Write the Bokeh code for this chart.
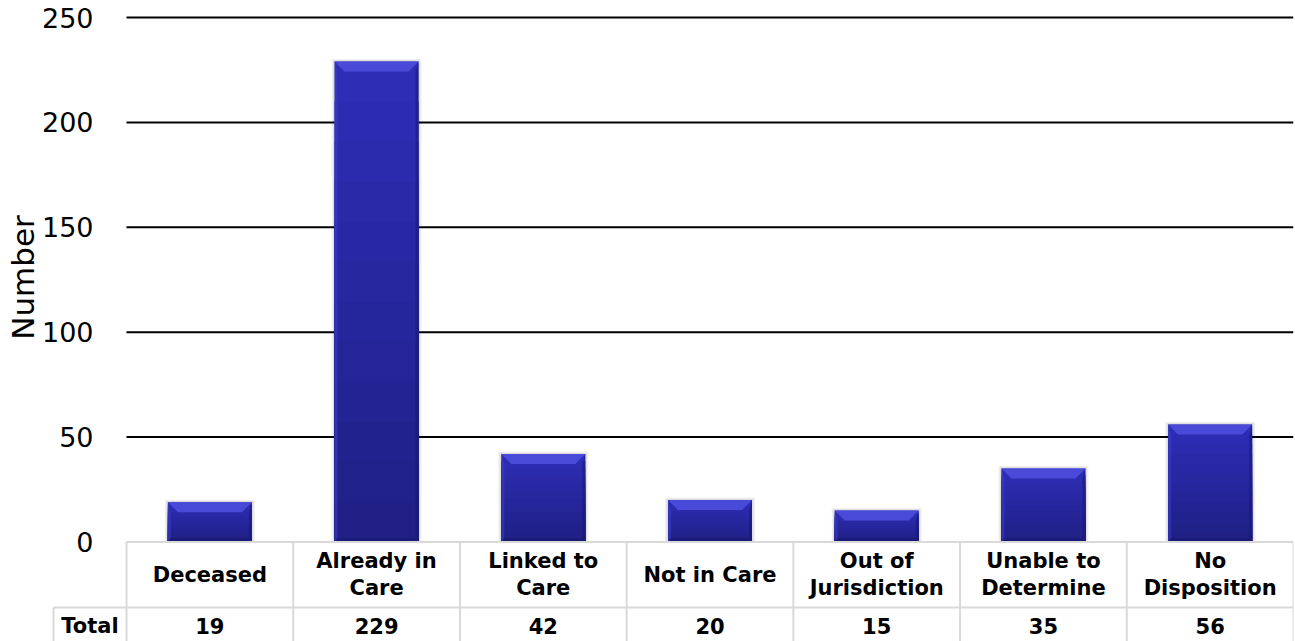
from bokeh.plotting import figure
from bokeh.models import Range1d, FixedTicker
from bokeh.core.properties import value
from bokeh.embed import file_html
from bokeh.resources import INLINE
import math

# ---------------- data ----------------
categories = ["Deceased", "Already in Care", "Linked to Care", "Not in Care",
              "Out of Jurisdiction", "Unable to Determine", "No Disposition"]
cat_labels = ["Deceased", "Already in\nCare", "Linked to\nCare", "Not in Care",
              "Out of\nJurisdiction", "Unable to\nDetermine", "No\nDisposition"]
totals = [19, 229, 42, 20, 15, 35, 56]
y_ticks = [0, 50, 100, 150, 200, 250]
grid_ticks = [50, 100, 150, 200, 250]
row_title = "Total"
y_title = "Number"

# ---------------- layout constants ----------------
W, H = 1295, 641
LEFT, RIGHT, TOP = 126, 2, 0      # LEFT: screen x of the chart area's left edge
TOTAL_LEFT = 53                    # screen x of the "Total" cell's left edge
n = len(categories)
pxu = (W - LEFT - RIGHT) / n       # px per x unit
Y0 = 541.5                          # screen y of value 0
Y250 = 17.0
py = (Y0 - Y250) / 250.0            # px per y unit
y_top = 250 + (Y250 - TOP) / py
y_bot = -(H - Y0) / py
y_row1 = -(607 - Y0) / py
hdr_mid = -(574 - Y0) / py
tot_mid = -(625 - Y0) / py
x_start = -LEFT / pxu
x_tot_left = -(LEFT - TOTAL_LEFT) / pxu

FONT = "DejaVu Sans"
GRID = "#D9D9D9"

p = figure(width=W, height=H, output_backend="svg", toolbar_location=None,
           x_range=Range1d(x_start, n), y_range=Range1d(y_bot, y_top),
           min_border_left=0, min_border_right=RIGHT,
           min_border_top=TOP, min_border_bottom=0)
p.outline_line_color = None
p.background_fill_color = "white"
p.border_fill_color = "white"
p.xaxis.visible = False
p.grid.visible = False

yax = p.yaxis[0]
yax.fixed_location = 0
yax.ticker = FixedTicker(ticks=y_ticks)
yax.axis_line_color = None
yax.major_tick_line_color = None
yax.minor_tick_line_color = None
yax.major_label_text_font = FONT
yax.major_label_text_font_size = "27px"
yax.major_label_text_color = "black"
yax.major_label_standoff = 27

# horizontal gridlines across the chart area only
p.segment(x0=[0] * len(grid_ticks), y0=grid_ticks, x1=[n] * len(grid_ticks), y1=grid_ticks,
          line_color="black", line_width=2, level="underlay")

xs = [i + 0.5 for i in range(n)]
half = 42 / pxu
sh = 3 / pxu

# soft shadow
p.quad(left=[x - half - sh for x in xs], right=[x + half + sh for x in xs],
       bottom=[0] * n, top=[v + 2.5 / py for v in totals],
       fill_color="black", fill_alpha=0.06, line_color=None)
p.quad(left=[x - half - sh / 2 for x in xs], right=[x + half + sh / 2 for x in xs],
       bottom=[0] * n, top=[v + 1.2 / py for v in totals],
       fill_color="black", fill_alpha=0.08, line_color=None)

# bar body: vertical shading from dark base to brighter top (overlapping, no seams)
c_bot = (0x1F, 0x1F, 0x84)
c_top = (0x2E, 0x2E, 0xB8)
steps = 12
for j in range(steps, 0, -1):
    t = (j - 0.5) / steps
    col = "#%02x%02x%02x" % tuple(int(round(a + (b - a) * t)) for a, b in zip(c_bot, c_top))
    p.quad(left=[x - half for x in xs], right=[x + half for x in xs],
           bottom=[0] * n, top=[v * j / steps for v in totals],
           fill_color=col, line_color=None)

# bevels
dx = 10 / pxu
dy = 10 / py
sx = 3 / pxu
bdy = 4 / py
top_x = [[x - half, x + half, x + half - dx, x - half + dx] for x in xs]
top_y = [[v, v, v - dy, v - dy] for v in totals]
p.patches(top_x, top_y, fill_color="#4A4AD8", line_color=None)
left_x = [[x - half, x - half + sx, x - half + sx, x - half] for x in xs]
left_y = [[v, v - dy, bdy, 0] for v in totals]
p.patches(left_x, left_y, fill_color="#3A3AC8", fill_alpha=0.6, line_color=None)
right_x = [[x + half, x + half - sx, x + half - sx, x + half] for x in xs]
p.patches(right_x, left_y, fill_color="#16166A", fill_alpha=0.5, line_color=None)
bot_x = [[x - half, x + half, x + half - sx, x - half + sx] for x in xs]
bot_y = [[0, 0, bdy, bdy] for v in totals]
p.patches(bot_x, bot_y, fill_color="#18186E", fill_alpha=0.6, line_color=None)

# ---------------- data table ----------------
bounds = list(range(n + 1))
p.segment(x0=bounds, y0=[0] * (n + 1), x1=bounds, y1=[y_bot] * (n + 1),
          line_color=GRID, line_width=2)
p.segment(x0=[x_tot_left], y0=[y_row1], x1=[x_tot_left], y1=[y_bot],
          line_color=GRID, line_width=2)
p.segment(x0=[0, x_tot_left], y0=[0, y_row1], x1=[n, n], y1=[0, y_row1],
          line_color=GRID, line_width=2)

p.text(x=xs, y=[hdr_mid] * n, text=cat_labels, text_font=value(FONT),
       text_font_style="bold", text_font_size="21px", text_color="black",
       text_align="center", text_baseline="middle", text_line_height=1.1)
p.text(x=xs, y=[tot_mid] * n, text=[str(t) for t in totals], text_font=value(FONT),
       text_font_style="bold", text_font_size="21px", text_color="black",
       text_align="center", text_baseline="middle")
p.text(x=[x_tot_left / 2], y=[tot_mid], text=[row_title], text_font=value(FONT),
       text_font_style="bold", text_font_size="21px", text_color="black",
       text_align="center", text_baseline="middle")

# y-axis title
p.text(x=[-(LEFT - 22) / pxu], y=[(Y0 - 277) / py], text=[y_title], angle=math.pi / 2,
       text_font=value(FONT), text_font_size="31px", text_color="black",
       text_align="center", text_baseline="middle")

open("out.html", "w").write(file_html(p, INLINE))
